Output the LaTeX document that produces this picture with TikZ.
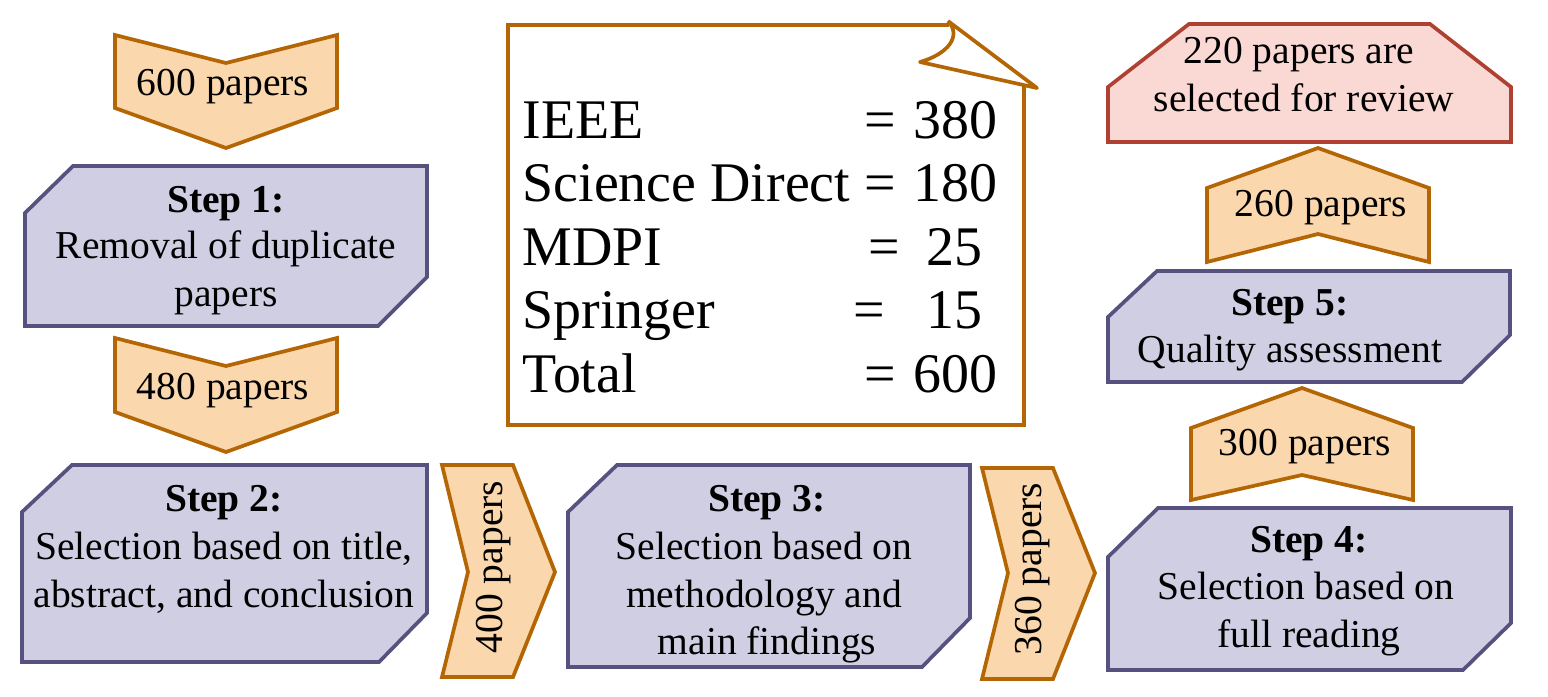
\documentclass[tikz,border=0pt]{standalone}
\usepackage{fontspec}
\setmainfont{Liberation Serif}
\definecolor{boxfill}{HTML}{D0CEE2}
\definecolor{boxdraw}{HTML}{56517E}
\definecolor{chevfill}{HTML}{FAD7AC}
\definecolor{chevdraw}{HTML}{B46504}
\definecolor{hexfill}{HTML}{FAD9D5}
\definecolor{hexdraw}{HTML}{AE4132}
\begin{document}
\begin{tikzpicture}[x=0.01cm,y=-0.01cm,
  stepbox/.style={fill=boxfill, draw=boxdraw, line width=1.05pt},
  chev/.style={fill=chevfill, draw=chevdraw, line width=1.05pt},
  finalbox/.style={fill=hexfill, draw=hexdraw, line width=1.05pt},
  notebox/.style={draw=chevdraw, line width=1.05pt},
  txt/.style={inner sep=0pt, anchor=base, font=\fontsize{11.24pt}{13.5pt}\selectfont},
  hd/.style={inner sep=0pt, anchor=base, font=\fontsize{11.24pt}{13.5pt}\selectfont\bfseries},
  nt/.style={inner sep=0pt, font=\fontsize{15.9pt}{19pt}\selectfont}]
\useasboundingbox (0,0) rectangle (1548,696);

% ---- chevrons (left column) ----
\draw[chev] (115,35) -- (226,63) -- (337,35) -- (337,108) -- (226,148) -- (115,108) -- cycle;
\node[txt] (t600) at (223,95) {600 papers};
\draw[chev] (115,338) -- (226,366) -- (337,338) -- (337,412) -- (226,452) -- (115,412) -- cycle;
\node[txt] (t480) at (223,399) {480 papers};

% ---- Step 1 ----
\draw[stepbox] (25,213) -- (73,166) -- (427,166) -- (427,277) -- (378,326) -- (25,326) -- cycle;
\node[hd] (s1a) at (226,212) {Step 1:};
\node[txt] (s1b) at (226,258) {Removal of duplicate};
\node[txt] (s1c) at (226,306) {papers};

% ---- Step 2 ----
\draw[stepbox] (22,512) -- (72,465) -- (427,465) -- (427,613) -- (379,662) -- (22,662) -- cycle;
\node[hd] (s2a) at (224,511) {Step 2:};
\node[txt] (s2b) at (224,559) {Selection based on title,};
\node[txt] (s2c) at (224,607) {abstract, and conclusion};

% ---- 400 chevron ----
\draw[chev] (442,465) -- (513,465) -- (555,572) -- (513,677) -- (442,677) -- (468,572) -- cycle;
\node[txt, rotate=90] (t400) at (502,567) {400 papers};

% ---- Step 3 ----
\draw[stepbox] (568,512) -- (617,465) -- (970,465) -- (970,618) -- (922,667) -- (568,667) -- cycle;
\node[hd] (s3a) at (767,511) {Step 3:};
\node[txt] (s3b) at (764,559) {Selection based on};
\node[txt] (s3c) at (764,607) {methodology and};
\node[txt] (s3d) at (767,654) {main findings};

% ---- 360 chevron ----
\draw[chev] (982,468) -- (1053,468) -- (1095,573) -- (1053,679) -- (982,679) -- (1008,573) -- cycle;
\node[txt, rotate=90] (t360) at (1041,569) {360 papers};

% ---- Step 4 ----
\draw[stepbox] (1108,557) -- (1158,508) -- (1511,508) -- (1511,623) -- (1463,670) -- (1108,670) -- cycle;
\node[hd] (s4a) at (1309,552) {Step 4:};
\node[txt] (s4b) at (1306,599) {Selection based on};
\node[txt] (s4c) at (1309,647) {full reading};

% ---- 300 chevron ----
\draw[chev] (1191,500) -- (1191,428) -- (1302,388) -- (1413,428) -- (1413,500) -- (1302,475) -- cycle;
\node[txt] (t300) at (1305,455) {300 papers};

% ---- Step 5 ----
\draw[stepbox] (1108,317) -- (1157,271) -- (1510,271) -- (1510,335) -- (1462,382) -- (1108,382) -- cycle;
\node[hd] (s5a) at (1290,315) {Step 5:};
\node[txt] (s5b) at (1290,362) {Quality assessment};

% ---- 260 chevron ----
\draw[chev] (1207,262) -- (1207,188) -- (1318,148) -- (1429,188) -- (1429,262) -- (1318,234) -- cycle;
\node[txt] (t260) at (1321,216) {260 papers};

% ---- final ----
\draw[finalbox] (1108,142) -- (1108,87) -- (1189,24) -- (1430,24) -- (1511,87) -- (1511,142) -- cycle;
\node[txt] (f1) at (1299,63) {220 papers are};
\node[txt] (f2) at (1304,111) {selected for review};

% ---- note ----
\draw[notebox] (949,25) -- (508,25) -- (508,425) -- (1024,425) -- (1024,84);
\draw[notebox, line join=round] (948,21) -- (1037,88) -- (920,62) .. controls (948,54) and (962,36) .. (948,21);
\node[nt, anchor=base west] (n1) at (522,138) {IEEE};
\node[nt, anchor=base west] (n2) at (522,201) {Science Direct};
\node[nt, anchor=base west] (n3) at (522,265) {MDPI};
\node[nt, anchor=base west] (n4) at (522,328) {Springer};
\node[nt, anchor=base west] (n5) at (522,392) {Total};
\node[nt, anchor=base west] (e1) at (864,138) {=};
\node[nt, anchor=base west] (e2) at (864,201) {=};
\node[nt, anchor=base west] (e3) at (868,265) {=};
\node[nt, anchor=base west] (e4) at (853,328) {=};
\node[nt, anchor=base west] (e5) at (864,392) {=};
\node[nt, anchor=base east] (v1) at (998,138) {380};
\node[nt, anchor=base east] (v2) at (998,201) {180};
\node[nt, anchor=base east] (v3) at (983,265) {25};
\node[nt, anchor=base east] (v4) at (983,328) {15};
\node[nt, anchor=base east] (v5) at (998,392) {600};
\end{tikzpicture}
\end{document}
